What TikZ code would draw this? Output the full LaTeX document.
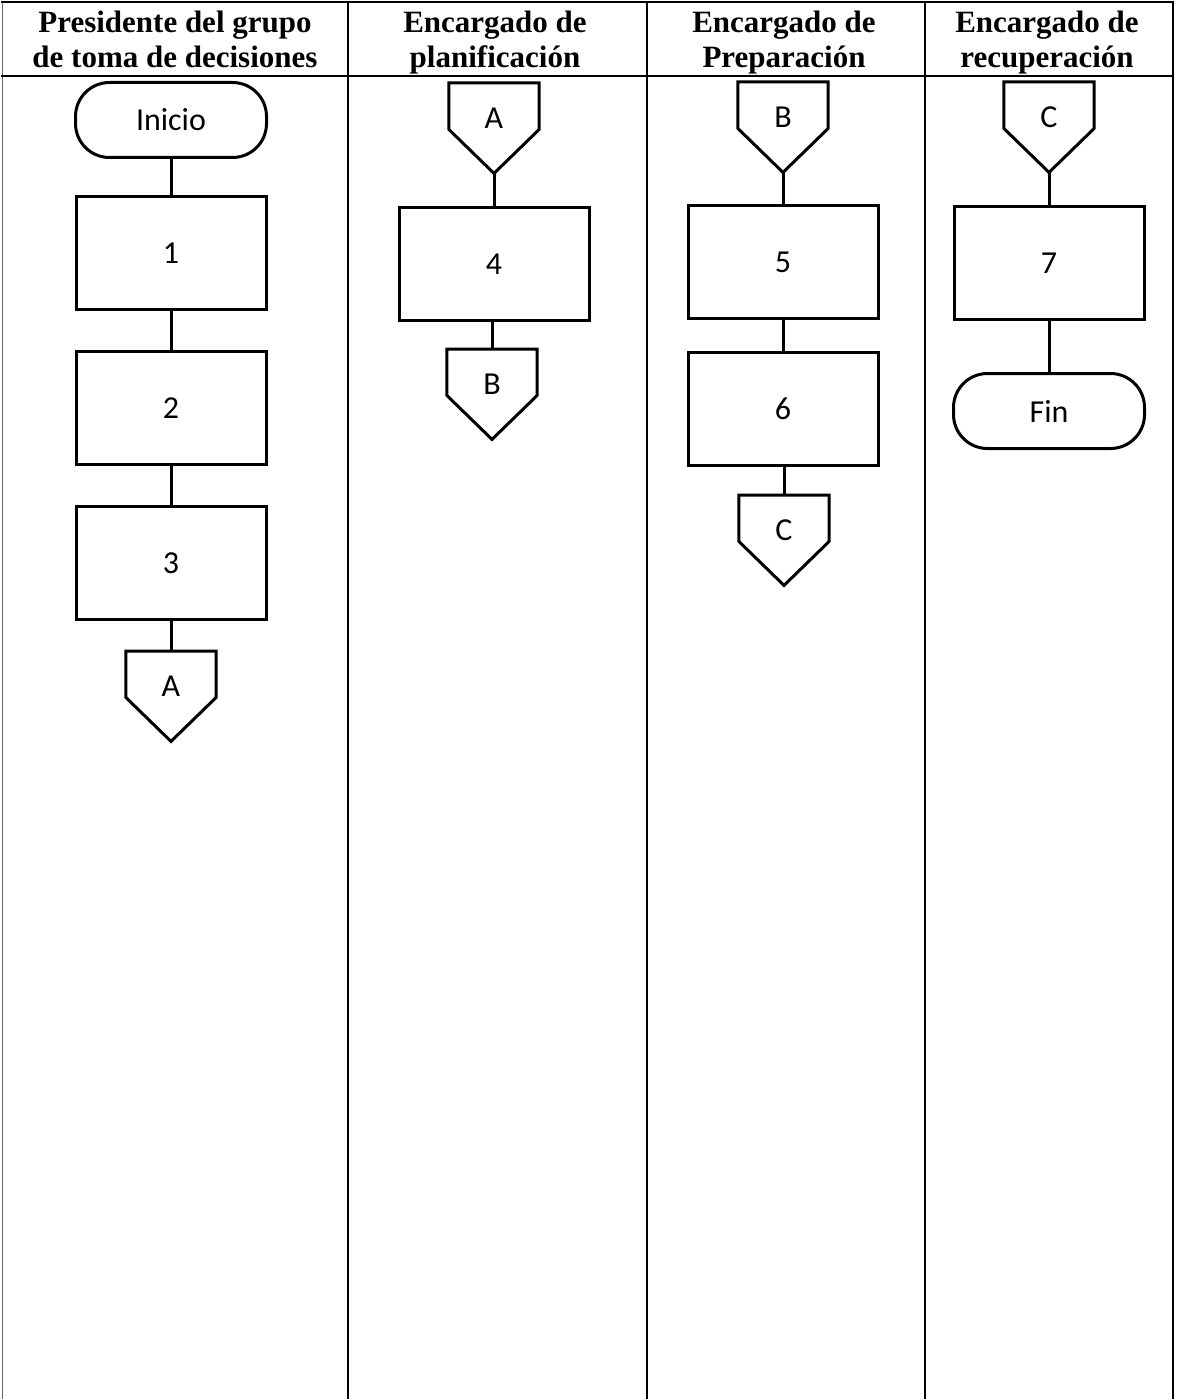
\documentclass[tikz,border=0pt]{standalone}
\usepackage{fontspec}
\setmainfont{Liberation Serif}
\newfontfamily\calib{Carlito}
\usetikzlibrary{calc}
\tikzset{
  tabline/.style={line width=2.8pt, line cap=rect},
  thinline/.style={line width=1pt, draw=black!60},
  shapeline/.style={line width=3pt, line join=miter},
  head/.style={align=center, font=\bfseries\fontsize{31}{35}\selectfont, inner sep=0pt},
  proc/.style={draw, shapeline, minimum width=190pt, minimum height=113pt, inner sep=0pt, font=\calib\fontsize{32}{32}\selectfont},
  term/.style={draw, shapeline, minimum width=191pt, minimum height=75pt, rounded corners=34pt, inner sep=0pt, font=\calib\fontsize{32}{32}\selectfont},
  offp/.style={minimum width=90pt, minimum height=46pt, inner sep=0pt, text height=44pt, text depth=0pt, font=\calib\fontsize{32}{32}\selectfont},
  conn/.style={line width=3pt}
}
\newcommand\offpage[4]{%
  \node[offp, anchor=north] (#1) at (#2,#3) {#4};
  \coordinate (#1tip) at ($(#1.south)+(0,44)$);
  \draw[shapeline] (#1.north west) -- (#1.north east) -- (#1.south east) -- (#1tip) -- (#1.south west) -- cycle;
}
\begin{document}
\begin{tikzpicture}[x=1pt, y=-1pt]
\useasboundingbox (0,0) rectangle (1176,1399);
\fill[white] (0,0) rectangle (1176,1399);
% table
\draw[thinline] (2,2) -- (2,1399);
\draw[tabline] (2,2) -- (1173,2);
\draw[tabline] (2,76) -- (1173,76);
\draw[tabline] (348,2) -- (348,1399);
\draw[tabline] (647,2) -- (647,1399);
\draw[tabline] (925,2) -- (925,1399);
\draw[tabline] (1173,2) -- (1173,1399);
% headers
\node[head] (h1) at (175,43) {\strut Presidente del grupo\\\strut de toma de decisiones};
\node[head] (h2) at (495,43) {\strut Encargado de\\\strut planificación};
\node[head] (h3) at (784,43) {\strut Encargado de\\\strut Preparación};
\node[head] (h4) at (1047,43) {\strut Encargado de\\\strut recuperación};
% column 1
\node[term] (inicio) at (171,120) {Inicio};
\node[proc] (b1) at (171,253) {1};
\node[proc] (b2) at (171,408) {2};
\node[proc] (b3) at (171,563) {3};
\offpage{oA}{171}{651}{A}
\draw[conn] (inicio) -- (b1);
\draw[conn] (b1) -- (b2);
\draw[conn] (b2) -- (b3);
\draw[conn] (b3) -- (oA);
% column 2
\offpage{iA}{494}{83}{A}
\node[proc] (b4) at (494,264) {4};
\offpage{oB}{492}{349}{B}
\draw[conn] (iAtip) -- (b4);
\draw[conn] (b4.south -| oB.north) -- (oB);
% column 3
\offpage{iB}{783}{82}{B}
\node[proc] (b5) at (783,262) {5};
\node[proc] (b6) at (783,409) {6};
\offpage{oC}{784}{495}{C}
\draw[conn] (iBtip) -- (b5);
\draw[conn] (b5) -- (b6);
\draw[conn] (b6.south -| oC.north) -- (oC);
% column 4
\offpage{iC}{1049}{82}{C}
\node[proc] (b7) at (1049,263) {7};
\node[term] (fin) at (1049,411) {Fin};
\draw[conn] (iCtip) -- (b7);
\draw[conn] (b7) -- (fin);
\end{tikzpicture}
\end{document}
